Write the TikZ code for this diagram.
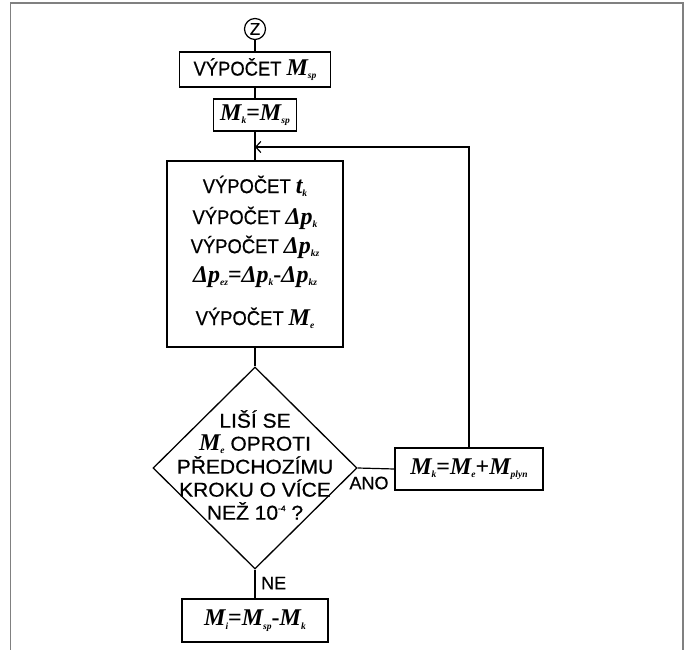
\documentclass[tikz,border=0pt]{standalone}
\usepackage{fontspec}
\setmainfont{Liberation Sans}[FakeBold=0.6]
\newfontfamily\tnr{Liberation Serif}
\newfontfamily\narsans[FakeStretch=0.92,FakeBold=0.6]{Liberation Sans}
\newfontfamily\widesans[FakeStretch=1.05,FakeBold=0.6]{Liberation Sans}
\usetikzlibrary{shapes.geometric,arrows.meta}
\newcommand\vm[2]{{\tnr\bfseries\itshape\fontsize{24}{26}\selectfont #1\raisebox{-0.3ex}{\fontsize{9.5}{9.5}\selectfont #2}}}
\newcommand\veq{{\tnr\bfseries\fontsize{24}{26}\selectfont =}}
\newcommand\vminus{{\tnr\bfseries\fontsize{24}{26}\selectfont -}}
\newcommand\vplus{{\tnr\bfseries\fontsize{24}{26}\selectfont +}}
\begin{document}
\begin{tikzpicture}[x=1pt,y=-1pt,
  box/.style={draw, line width=1.3pt, rectangle, inner sep=0pt},
  ln/.style={line width=1.2pt},
  txt/.style={font=\narsans\fontsize{20}{22}\selectfont, inner sep=0pt},
  lbl/.style={font=\fontsize{18}{20}\selectfont, inner sep=0pt},
  mtxt/.style={font=\fontsize{21}{23}\selectfont, inner sep=0pt},
  frame/.style={draw=black!50, line width=1.6pt}]
\useasboundingbox (0,0) rectangle (688,650);
\draw[frame] (10.5,650) -- (10.5,3) -- (683,3) -- (683,650);

\node[draw, circle, line width=1.2pt, minimum size=21pt, inner sep=0pt, font=\fontsize{17}{17}\selectfont] (z) at (255,29) {Z};
\node[box, txt, minimum width=151pt, minimum height=35pt] (b1) at (255,69.5) {VÝPOČET \vm{M}{sp}};
\node[box, mtxt, minimum width=83pt, minimum height=32pt] (b2) at (255,115) {\vm{M}{k}\veq\vm{M}{sp}};
\node[box, minimum width=176pt, minimum height=186pt] (b3) at (255,254) {};
\node[txt] (l1) at (255,186) {VÝPOČET \vm{t}{k}};
\node[txt] (l2) at (255,218) {VÝPOČET \vm{Δp}{k}};
\node[txt] (l3) at (255,247) {VÝPOČET \vm{Δp}{kz}};
\node[txt] (l4) at (255,277) {\vm{Δp}{ez}\veq\vm{Δp}{k}\vminus\vm{Δp}{kz}};
\node[txt] (l5) at (255,318) {VÝPOČET \vm{M}{e}};

\node[draw, diamond, line width=1.3pt, minimum width=204pt, minimum height=202pt, inner sep=0pt] (d) at (255,468) {};
\node[align=center, inner sep=0pt, font=\widesans\fontsize{20}{23}\selectfont] (dt) at (255,465)
  {LIŠÍ SE\\ \vm{M}{e} OPROTI\\ PŘEDCHOZÍMU\\ KROKU O VÍCE\\ NEŽ 10\raisebox{0.8ex}{\fontsize{8}{8}\selectfont -4} ?};

\node[box, mtxt, minimum width=148pt, minimum height=42pt] (ano) at (469,469) {\vm{M}{k}\veq\vm{M}{e}\vplus\vm{M}{plyn}};
\node[box, mtxt, minimum width=146pt, minimum height=43pt] (mi) at (255,620.5) {\vm{M}{i}\veq\vm{M}{sp}\vminus\vm{M}{k}};

\node[lbl] (anolbl) at (369,483) {ANO};
\node[lbl, anchor=west] (nelbl) at (261,583) {NE};

\coordinate (j) at (255,147);
\draw[ln] (z) -- (b1);
\draw[ln] (b1) -- (b2);
\draw[ln] (b2) -- (b3);
\draw[ln] (b3) -- (d);
\draw[ln] (d) -- (mi);
\draw[ln] (d.east) -- (ano.west);
\draw[ln, -{Straight Barb[length=5pt,width=11pt]}] (ano.north) |- (j);
\end{tikzpicture}
\end{document}
